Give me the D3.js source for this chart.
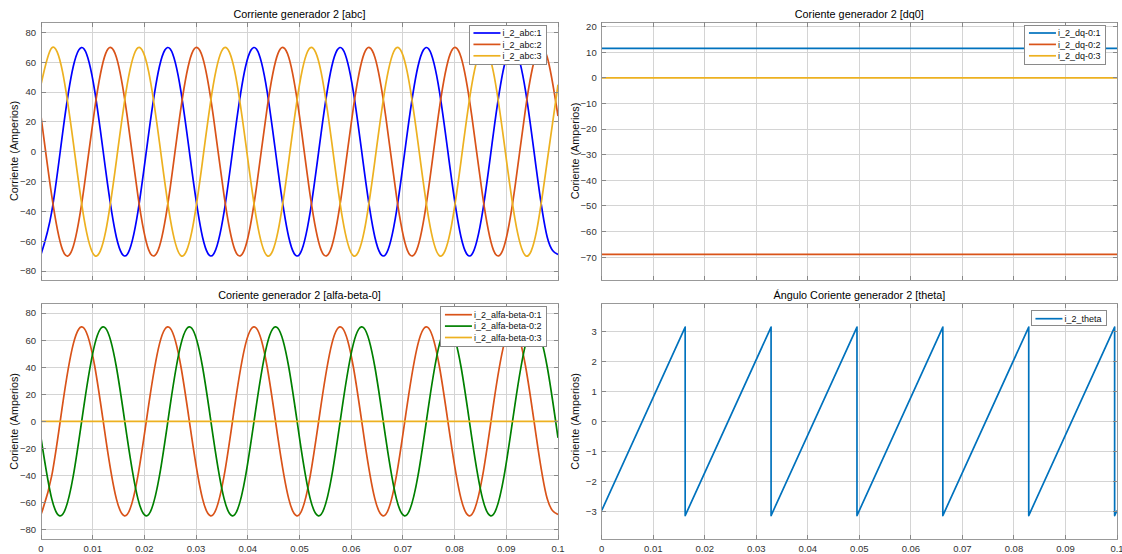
<!DOCTYPE html>
<html>
<head>
<meta charset="utf-8">
<script src="https://cdn.jsdelivr.net/npm/d3@7"></script>
<style>
  html, body { margin: 0; padding: 0; background: #fff; }
  svg { display: block; font-family: Helvetica, "Liberation Sans", Arial, sans-serif; }
  .grid line { stroke: #d4d4d4; stroke-width: 1; shape-rendering: crispEdges; }
  .frame { fill: none; stroke: #999; stroke-width: 1; shape-rendering: crispEdges; }
  .tick-mark { stroke: #888; stroke-width: 1; shape-rendering: crispEdges; }
  .tick-label { fill: #333; font-size: 9.5px; }
  .title { fill: #000; font-size: 10.8px; }
  .ylabel { fill: #111; font-size: 10.8px; }
  .legend-box { fill: #fff; stroke: #8a8a8a; stroke-width: 1; shape-rendering: crispEdges; }
  .legend-text { fill: #111; font-size: 9px; }
</style>
</head>
<body>
<svg id="chart" width="1122" height="554"></svg>
<script>
// Four MATLAB-style subplots: generator 2 currents in abc, dq0, alfa-beta-0 and the angle theta.

// sample times (s) for the sinusoidal traces, read every 1/8 of a 60 Hz cycle
const T_WAVE = [
  0, 0.00208, 0.00417, 0.00625, 0.00833, 0.01042, 0.0125, 0.01458,
  0.01667, 0.01875, 0.02083, 0.02292, 0.025, 0.02708, 0.02917, 0.03125,
  0.03333, 0.03542, 0.0375, 0.03958, 0.04167, 0.04375, 0.04583, 0.04792,
  0.05, 0.05208, 0.05417, 0.05625, 0.05833, 0.06042, 0.0625, 0.06458,
  0.06667, 0.06875, 0.07083, 0.07292, 0.075, 0.07708, 0.07917, 0.08125,
  0.08333, 0.08542, 0.0875, 0.08958, 0.09167, 0.09375, 0.09583, 0.09792,
  0.1
];

const I_ABC_1 = [
  -68.9, -40.2, 12.2, 57.3, 68.9, 40.2, -12.2, -57.3,
  -68.9, -40.2, 12.2, 57.3, 68.9, 40.2, -12.2, -57.3,
  -68.9, -40.2, 12.2, 57.3, 68.9, 40.2, -12.2, -57.3,
  -68.9, -40.2, 12.2, 57.3, 68.9, 40.2, -12.2, -57.3,
  -68.9, -40.2, 12.2, 57.3, 68.9, 40.2, -12.2, -57.3,
  -68.9, -40.2, 12.2, 57.3, 68.9, 40.2, -12.2, -57.3,
  -68.9
];
const I_ABC_2 = [
  23.9, -29.6, -65.8, -63.4, -23.9, 29.6, 65.8, 63.4,
  23.9, -29.6, -65.8, -63.4, -23.9, 29.6, 65.8, 63.4,
  23.9, -29.6, -65.8, -63.4, -23.9, 29.6, 65.8, 63.4,
  23.9, -29.6, -65.8, -63.4, -23.9, 29.6, 65.8, 63.4,
  23.9, -29.6, -65.8, -63.4, -23.9, 29.6, 65.8, 63.4,
  23.9, -29.6, -65.8, -63.4, -23.9, 29.6, 65.8, 63.4,
  23.9
];
const I_ABC_3 = [
  45.0, 69.7, 53.6, 6.1, -45.0, -69.7, -53.6, -6.1,
  45.0, 69.7, 53.6, 6.1, -45.0, -69.7, -53.6, -6.1,
  45.0, 69.7, 53.6, 6.1, -45.0, -69.7, -53.6, -6.1,
  45.0, 69.7, 53.6, 6.1, -45.0, -69.7, -53.6, -6.1,
  45.0, 69.7, 53.6, 6.1, -45.0, -69.7, -53.6, -6.1,
  45.0, 69.7, 53.6, 6.1, -45.0, -69.7, -53.6, -6.1,
  45.0
];

const I_AB0_1 = [
  -68.9, -40.2, 12.2, 57.3, 68.9, 40.2, -12.2, -57.3,
  -68.9, -40.2, 12.2, 57.3, 68.9, 40.2, -12.2, -57.3,
  -68.9, -40.2, 12.2, 57.3, 68.9, 40.2, -12.2, -57.3,
  -68.9, -40.2, 12.2, 57.3, 68.9, 40.2, -12.2, -57.3,
  -68.9, -40.2, 12.2, 57.3, 68.9, 40.2, -12.2, -57.3,
  -68.9, -40.2, 12.2, 57.3, 68.9, 40.2, -12.2, -57.3,
  -68.9
];
const I_AB0_2 = [
  -12.2, -57.3, -68.9, -40.2, 12.2, 57.3, 68.9, 40.2,
  -12.2, -57.3, -68.9, -40.2, 12.2, 57.3, 68.9, 40.2,
  -12.2, -57.3, -68.9, -40.2, 12.2, 57.3, 68.9, 40.2,
  -12.2, -57.3, -68.9, -40.2, 12.2, 57.3, 68.9, 40.2,
  -12.2, -57.3, -68.9, -40.2, 12.2, 57.3, 68.9, 40.2,
  -12.2, -57.3, -68.9, -40.2, 12.2, 57.3, 68.9, 40.2,
  -12.2
];

// constant traces: start and end of the window
const T_FLAT = [0, 0.1];
const I_AB0_3 = [0, 0];
const I_DQ0_1 = [11.5, 11.5];
const I_DQ0_2 = [-68.9, -68.9];
const I_DQ0_3 = [0, 0];

// theta sawtooth corners (wraps at +/- pi)
const T_THETA = [0, 0.0162, 0.0162, 0.03287, 0.03287, 0.04954, 0.04954, 0.0662, 0.0662, 0.08287, 0.08287, 0.09954, 0.09954, 0.1];
const THETA = [-2.97, 3.14, -3.14, 3.14, -3.14, 3.14, -3.14, 3.14, -3.14, 3.14, -3.14, 3.14, -3.14, -2.97];

const X_TICKS = [0, 0.01, 0.02, 0.03, 0.04, 0.05, 0.06, 0.07, 0.08, 0.09, 0.1];
const Y_TICKS_ABC = [-80, -60, -40, -20, 0, 20, 40, 60, 80];
const Y_TICKS_DQ0 = [-70, -60, -50, -40, -30, -20, -10, 0, 10, 20];
const Y_TICKS_THETA = [-3, -2, -1, 0, 1, 2, 3];

const BLUE = "#0000ff";
const ORANGE = "#d95319";
const YELLOW = "#edb120";
const GREEN = "#008000";
const MBLUE = "#0072bd";

const svg = d3.select("#chart");

const panels = [
  {
    box: { left: 41, right: 558, top: 22, bottom: 280 },
    yDomain: [-86, 87], yTicks: Y_TICKS_ABC, xLabels: false,
    title: "Corriente generador 2 [abc]", ylabel: "Corriente (Amperios)",
    curve: d3.curveNatural,
    legend: { right: 11.5, top: 3 },
    series: [
      { name: "i_2_abc:1", t: T_WAVE, v: I_ABC_1, color: BLUE },
      { name: "i_2_abc:2", t: T_WAVE, v: I_ABC_2, color: ORANGE },
      { name: "i_2_abc:3", t: T_WAVE, v: I_ABC_3, color: YELLOW }
    ]
  },
  {
    box: { left: 601.7, right: 1117, top: 22, bottom: 280 },
    yDomain: [-78.9, 21.8], yTicks: Y_TICKS_DQ0, xLabels: false,
    title: "Coriente generador 2 [dq0]", ylabel: "Coriente (Amperios)",
    curve: d3.curveLinear,
    legend: { right: 11.5, top: 3 },
    series: [
      { name: "i_2_dq-0:1", t: T_FLAT, v: I_DQ0_1, color: MBLUE },
      { name: "i_2_dq-0:2", t: T_FLAT, v: I_DQ0_2, color: ORANGE },
      { name: "i_2_dq-0:3", t: T_FLAT, v: I_DQ0_3, color: YELLOW }
    ]
  },
  {
    box: { left: 41, right: 558, top: 303.7, bottom: 539 },
    yDomain: [-87, 87], yTicks: Y_TICKS_ABC, xLabels: true,
    title: "Coriente generador 2 [alfa-beta-0]", ylabel: "Coriente (Amperios)",
    curve: d3.curveNatural,
    legend: { right: 11.5, top: 3 },
    series: [
      { name: "i_2_alfa-beta-0:1", t: T_WAVE, v: I_AB0_1, color: ORANGE },
      { name: "i_2_alfa-beta-0:2", t: T_WAVE, v: I_AB0_2, color: GREEN },
      { name: "i_2_alfa-beta-0:3", t: T_FLAT, v: I_AB0_3, color: YELLOW }
    ]
  },
  {
    box: { left: 601.7, right: 1117, top: 303.7, bottom: 539 },
    yDomain: [-3.92, 3.92], yTicks: Y_TICKS_THETA, xLabels: true,
    title: "Ángulo Coriente generador 2 [theta]", ylabel: "Coriente (Amperios)",
    curve: d3.curveLinear,
    legend: { right: 10.5, top: 7 },
    series: [
      { name: "i_2_theta", t: T_THETA, v: THETA, color: MBLUE }
    ]
  }
];

panels.forEach(drawPanel);

function drawPanel(p) {
  const b = p.box;
  const x = d3.scaleLinear().domain([0, 0.1]).range([b.left, b.right]);
  const y = d3.scaleLinear().domain(p.yDomain).range([b.bottom, b.top]);
  const g = svg.append("g");

  const clipId = "clip" + Math.round(b.left) + "_" + Math.round(b.top);
  svg.append("clipPath").attr("id", clipId)
    .append("rect")
      .attr("x", b.left).attr("y", b.top)
      .attr("width", b.right - b.left).attr("height", b.bottom - b.top);

  // grid
  const grid = g.append("g").attr("class", "grid");
  grid.selectAll("line.gx").data(X_TICKS.slice(1, -1)).join("line")
    .attr("x1", d => x(d)).attr("x2", d => x(d))
    .attr("y1", b.top).attr("y2", b.bottom);
  grid.selectAll("line.gy").data(p.yTicks).join("line")
    .attr("x1", b.left).attr("x2", b.right)
    .attr("y1", d => y(d)).attr("y2", d => y(d));

  // traces
  const line = d3.line().x(d => x(d[0])).y(d => y(d[1])).curve(p.curve);
  g.append("g").attr("clip-path", `url(#${clipId})`)
    .selectAll("path").data(p.series).join("path")
      .attr("fill", "none")
      .attr("stroke", d => d.color)
      .attr("stroke-width", 1.7)
      .attr("stroke-linejoin", "round")
      .attr("d", d => line(d.t.map((t, i) => [t, d.v[i]])));

  // frame and inward ticks on all four sides
  g.append("rect").attr("class", "frame")
    .attr("x", b.left).attr("y", b.top)
    .attr("width", b.right - b.left).attr("height", b.bottom - b.top);

  const tl = 4.5;
  const ticks = g.append("g");
  X_TICKS.forEach(d => {
    ticks.append("line").attr("class", "tick-mark")
      .attr("x1", x(d)).attr("x2", x(d)).attr("y1", b.bottom).attr("y2", b.bottom - tl);
    ticks.append("line").attr("class", "tick-mark")
      .attr("x1", x(d)).attr("x2", x(d)).attr("y1", b.top).attr("y2", b.top + tl);
  });
  p.yTicks.forEach(d => {
    ticks.append("line").attr("class", "tick-mark")
      .attr("x1", b.left).attr("x2", b.left + tl).attr("y1", y(d)).attr("y2", y(d));
    ticks.append("line").attr("class", "tick-mark")
      .attr("x1", b.right).attr("x2", b.right - tl).attr("y1", y(d)).attr("y2", y(d));
  });

  // tick labels
  g.selectAll("text.ytl").data(p.yTicks).join("text")
    .attr("class", "tick-label")
    .attr("x", b.left - 5).attr("y", d => y(d))
    .attr("dy", "0.35em").attr("text-anchor", "end")
    .text(d => d3.format("")(d));

  if (p.xLabels) {
    g.selectAll("text.xtl").data(X_TICKS).join("text")
      .attr("class", "tick-label")
      .attr("x", d => x(d)).attr("y", b.bottom + 13)
      .attr("text-anchor", "middle")
      .text(d => d3.format("")(+d.toFixed(2)));
  }

  // title and y label
  g.append("text").attr("class", "title")
    .attr("x", (b.left + b.right) / 2).attr("y", b.top - 4.5)
    .attr("text-anchor", "middle")
    .text(p.title);

  g.append("text").attr("class", "ylabel")
    .attr("transform", `translate(${b.left - 23},${(b.top + b.bottom) / 2}) rotate(-90)`)
    .attr("text-anchor", "middle")
    .text(p.ylabel);

  // legend (northeast)
  const rowH = 11.4;
  const lg = g.append("g");
  const box = lg.append("rect").attr("class", "legend-box");
  const rows = lg.selectAll("g.row").data(p.series).join("g");
  rows.append("line")
    .attr("x1", 4).attr("x2", 31)
    .attr("y1", (d, i) => 8 + i * rowH).attr("y2", (d, i) => 8 + i * rowH)
    .attr("stroke", d => d.color).attr("stroke-width", 1.7);
  const labels = rows.append("text").attr("class", "legend-text")
    .attr("x", 33).attr("y", (d, i) => 8 + i * rowH)
    .attr("dy", "0.35em")
    .text(d => d.name);

  let maxW = 0;
  labels.each(function () { maxW = Math.max(maxW, this.getComputedTextLength()); });
  const w = 33 + maxW + 5;
  const h = p.series.length === 1 ? 14.5 : 16 + (p.series.length - 1) * rowH + 0.5;
  box.attr("x", 0).attr("y", 0).attr("width", w).attr("height", h);
  lg.attr("transform", `translate(${b.right - p.legend.right - w},${b.top + p.legend.top})`);
}
</script>
</body>
</html>
